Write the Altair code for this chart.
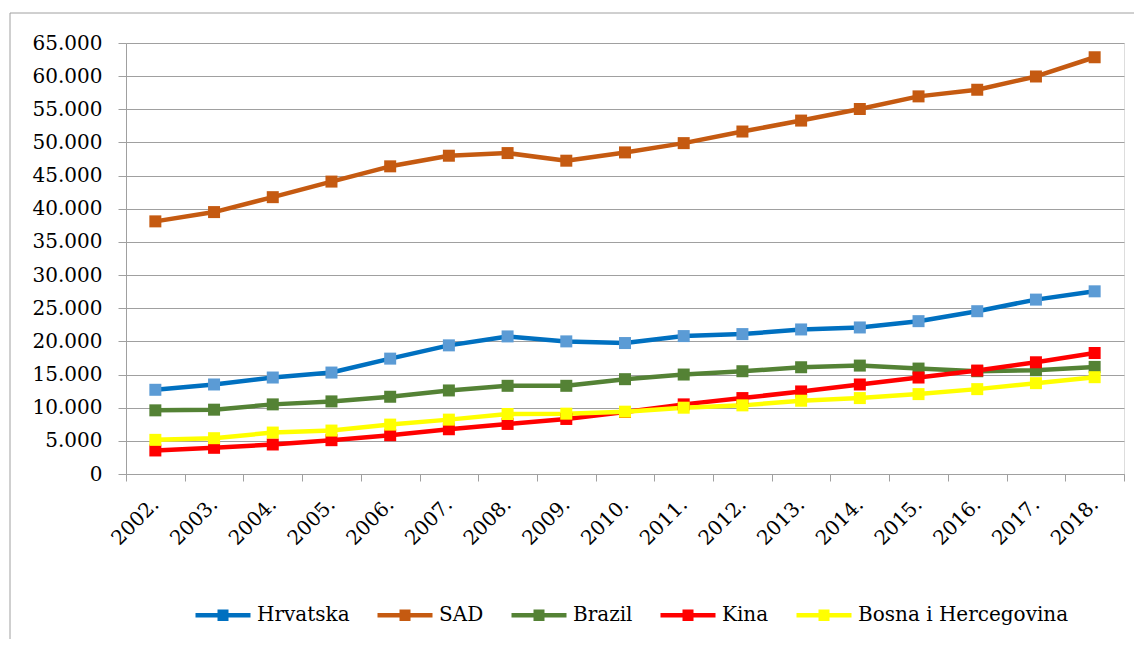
import altair as alt
import pandas as pd

years = ["2002.", "2003.", "2004.", "2005.", "2006.", "2007.", "2008.", "2009.", "2010.",
         "2011.", "2012.", "2013.", "2014.", "2015.", "2016.", "2017.", "2018."]
series = ["Hrvatska", "SAD", "Brazil", "Kina", "Bosna i Hercegovina"]
hrvatska = [12700, 13500, 14550, 15300, 17400, 19400, 20750, 20000, 19750, 20800, 21100, 21800, 22100, 23050, 24550, 26300, 27550]
sad = [38100, 39500, 41750, 44100, 46400, 48000, 48400, 47250, 48500, 49900, 51650, 53300, 55050, 56950, 57950, 59950, 62850]
brazil = [9600, 9700, 10500, 10950, 11650, 12600, 13300, 13300, 14300, 15000, 15500, 16100, 16350, 15900, 15500, 15650, 16150]
kina = [3550, 3950, 4450, 5100, 5850, 6750, 7550, 8300, 9350, 10500, 11450, 12450, 13500, 14550, 15600, 16850, 18250]
bih = [5150, 5400, 6250, 6550, 7450, 8200, 9050, 9100, 9400, 10000, 10350, 11050, 11450, 12050, 12800, 13700, 14600]
line_colors = ["#0070C0", "#C55A11", "#548235", "#FF0000", "#FFFF00"]
marker_colors = ["#5B9BD5", "#C55A11", "#548235", "#FF0000", "#FFFF00"]
y_ticks = list(range(0, 65001, 5000))

values = [hrvatska, sad, brazil, kina, bih]
rows = []
for si, (name, vals) in enumerate(zip(series, values)):
    for y, v in zip(years, vals):
        rows.append({"series": name, "order": si, "year": y, "value": v})
df = pd.DataFrame(rows)

FONT = "DejaVu Serif"
GRID = "#A0A0A0"

x_enc = alt.X("year:N", sort=years, title=None,
              scale=alt.Scale(paddingInner=0, paddingOuter=0),
              axis=alt.Axis(labelAngle=-45, labelAlign="right", labelBaseline="middle",
                            labelFont=FONT, labelFontSize=20, labelColor="black",
                            labelPadding=20, tickSize=7, tickColor=GRID, tickBand="extent",
                            domainColor=GRID, grid=False, labelOverlap=False))
y_enc = alt.Y("value:Q", title=None,
              scale=alt.Scale(domain=[0, 65000], nice=False),
              axis=alt.Axis(values=y_ticks, labelFont=FONT, labelFontSize=20, labelColor="black",
                            labelExpr="replace(format(datum.value, ','), ',', '.')",
                            labelPadding=16, tickSize=8, tickColor=GRID, domainColor=GRID,
                            gridColor=GRID, grid=True))

legend_symbol = "M-1,0H1M-0.2,-0.13H0.2M-0.2,0H0.2M-0.2,0.13H0.2"

lines = alt.Chart(df).mark_line(strokeWidth=4.5, strokeJoin="round").encode(
    x=x_enc, y=y_enc,
    color=alt.Color("series:N", sort=series,
                    scale=alt.Scale(domain=series, range=line_colors),
                    legend=alt.Legend(orient="none", legendX=67, legendY=542, direction="horizontal",
                                      title=None, symbolType=legend_symbol, symbolSize=3025,
                                      symbolStrokeWidth=4.5, labelFont=FONT, labelFontSize=20,
                                      labelColor="black", labelOffset=4, columnPadding=18,
                                      labelLimit=400, padding=0)),
    order="order:Q",
)

points = alt.Chart(df).mark_square(filled=True, size=144, opacity=1).encode(
    x=x_enc, y=y_enc,
    color=alt.Color("series:N", sort=series,
                    scale=alt.Scale(domain=series, range=marker_colors), legend=None),
    order="order:Q",
)

frame_df = pd.DataFrame({"a": [0]})
frame_top = alt.Chart(frame_df).mark_rule(color="#A0A0A0", strokeWidth=1).encode(
    x=alt.value(-116), x2=alt.value(1030), y=alt.value(-30))
frame_left = alt.Chart(frame_df).mark_rule(color="#A0A0A0", strokeWidth=1).encode(
    x=alt.value(-116), y=alt.value(-30), y2=alt.value(640))

chart = alt.layer(frame_top, frame_left, lines, points).resolve_scale(
    color="independent"
).properties(
    width=998, height=431,
    autosize=alt.AutoSizeParams(type="none"),
    padding={"left": 118, "top": 35, "right": 10, "bottom": 165},
).configure_view(stroke=None).configure(background="white", font=FONT)

chart.save("out.html", embed_options={"renderer": "svg", "actions": False})
